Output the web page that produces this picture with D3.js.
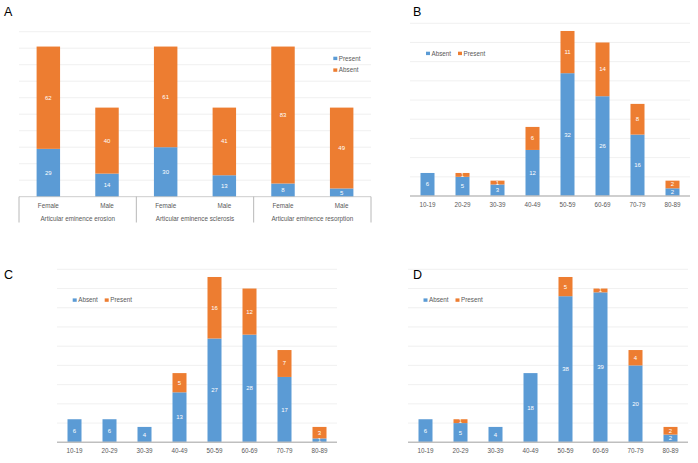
<!DOCTYPE html>
<html>
<head>
<meta charset="utf-8">
<script src="https://cdn.jsdelivr.net/npm/d3@7"></script>
<style>
  body { margin: 0; background: #fff; }
  svg { display: block; font-family: "Liberation Sans", Arial, sans-serif; }
</style>
</head>
<body>
<div id="chart"></div>
<script>
// ---- data ----
const featureGroups = ["Articular eminence erosion", "Articular eminence sclerosis", "Articular eminence resorption"];
const sexes = ["Female", "Male"];
const aPresent = [29, 14, 30, 13, 8, 5];
const aAbsent = [62, 40, 61, 41, 83, 49];

const ageGroups = ["10-19", "20-29", "30-39", "40-49", "50-59", "60-69", "70-79", "80-89"];
const bAbsent  = [6, 5, 3, 12, 32, 26, 16, 2];
const bPresent = [0, 1, 1, 6, 11, 14, 8, 2];
const cAbsent  = [6, 6, 4, 13, 27, 28, 17, 1];
const cPresent = [0, 0, 0, 5, 16, 12, 7, 3];
const dAbsent  = [6, 5, 4, 18, 38, 39, 20, 2];
const dPresent = [0, 1, 0, 0, 5, 1, 4, 2];

const blue = "#5b9bd5", orange = "#ed7d31";
const gridColor = "#ececec", axisColor = "#bfbfbf", labelColor = "#595959";
const fs = 6.3;

const svg = d3.select("#chart").append("svg")
    .attr("width", 698)
    .attr("height", 463);

// panel letters
const letters = [["A", 4, 16], ["B", 413, 16], ["C", 4, 279], ["D", 413, 279]];
svg.selectAll(".letter").data(letters).enter().append("text")
    .attr("class", "letter")
    .attr("x", d => d[1])
    .attr("y", d => d[2])
    .attr("font-size", 12.5)
    .attr("fill", "#000")
    .text(d => d[0]);

// draws a stacked bar: bottom series then top series, with white value labels
function drawStack(g, x, y, cats, bottom, top, bottomColor, topColor) {
    const rows = cats.map((c, i) => ({cat: c, b: bottom[i], t: top[i]}));
    const bars = g.selectAll(".bar").data(rows).enter().append("g");
    bars.append("rect")
        .attr("x", d => x(d.cat))
        .attr("width", x.bandwidth())
        .attr("y", d => y(d.b))
        .attr("height", d => y(0) - y(d.b))
        .attr("fill", bottomColor);
    bars.filter(d => d.t > 0).append("rect")
        .attr("x", d => x(d.cat))
        .attr("width", x.bandwidth())
        .attr("y", d => y(d.b + d.t))
        .attr("height", d => y(d.b) - y(d.b + d.t))
        .attr("fill", topColor);
    bars.filter(d => d.b > 0).append("text")
        .attr("x", d => x(d.cat) + x.bandwidth() / 2)
        .attr("y", d => (y(0) + y(d.b)) / 2 + 2)
        .attr("text-anchor", "middle")
        .attr("font-size", 6)
        .attr("fill", "#fff")
        .text(d => d.b);
    bars.filter(d => d.t > 0).append("text")
        .attr("x", d => x(d.cat) + x.bandwidth() / 2)
        .attr("y", d => (y(d.b) + y(d.b + d.t)) / 2 + 2)
        .attr("text-anchor", "middle")
        .attr("font-size", 6)
        .attr("fill", "#fff")
        .text(d => d.t);
}

function gridLines(g, y, ticks, x0, x1) {
    g.selectAll(".grid").data(ticks).enter().append("line")
        .attr("x1", x0).attr("x2", x1)
        .attr("y1", d => y(d)).attr("y2", d => y(d))
        .attr("stroke", gridColor)
        .attr("stroke-width", 0.8);
}

function legendItem(g, x, y, color, label) {
    g.append("rect").attr("x", x).attr("y", y - 1.6).attr("width", 4).attr("height", 3.4).attr("fill", color);
    g.append("text").attr("x", x + 5.5).attr("y", y + 2.2).attr("font-size", fs).attr("fill", labelColor).text(label);
}

// ---- Panel A ----
{
    const g = svg.append("g");
    const cats = [];
    featureGroups.forEach(f => sexes.forEach(s => cats.push(f + "|" + s)));
    const x = d3.scaleBand().domain(cats).range([19, 371]).paddingInner(0.6).paddingOuter(0.3);
    const y = d3.scaleLinear().domain([0, 100]).range([196.7, 31.7]);

    gridLines(g, y, d3.range(10, 101, 10), 19, 371);
    drawStack(g, x, y, cats, aPresent, aAbsent, blue, orange);

    g.append("line").attr("x1", 19).attr("x2", 371).attr("y1", y(0)).attr("y2", y(0))
        .attr("stroke", axisColor).attr("stroke-width", 0.8);

    // category labels
    g.selectAll(".sex").data(cats).enter().append("text")
        .attr("x", d => x(d) + x.bandwidth() / 2)
        .attr("y", 208)
        .attr("text-anchor", "middle")
        .attr("font-size", fs)
        .attr("fill", labelColor)
        .text(d => d.split("|")[1]);

    const groupW = (371 - 19) / featureGroups.length;
    g.selectAll(".grp").data(featureGroups).enter().append("text")
        .attr("x", (d, i) => 19 + groupW * (i + 0.5))
        .attr("y", 220.5)
        .attr("text-anchor", "middle")
        .attr("font-size", fs)
        .attr("fill", labelColor)
        .text(d => d);

    g.selectAll(".sep").data(d3.range(featureGroups.length + 1)).enter().append("line")
        .attr("x1", i => 19 + groupW * i).attr("x2", i => 19 + groupW * i)
        .attr("y1", y(0)).attr("y2", 222.5)
        .attr("stroke", "#a6a6a6").attr("stroke-width", 0.8);

    legendItem(g, 333.3, 58.3, blue, "Present");
    legendItem(g, 333.3, 70, orange, "Absent");
}

// ---- Age panels B, C, D ----
function agePanel(x0, x1, yBase, yTop, absent, present, legX, legY) {
    const g = svg.append("g");
    const x = d3.scaleBand().domain(ageGroups).range([x0, x1]).paddingInner(0.6).paddingOuter(0.3);
    const y = d3.scaleLinear().domain([0, 45]).range([yBase, yTop]);

    gridLines(g, y, d3.range(5, 46, 5), x0, x1);
    drawStack(g, x, y, ageGroups, absent, present, blue, orange);

    g.append("line").attr("x1", x0).attr("x2", x1).attr("y1", yBase).attr("y2", yBase)
        .attr("stroke", axisColor).attr("stroke-width", 1.6);

    g.selectAll(".tick").data(ageGroups).enter().append("text")
        .attr("x", d => x(d) + x.bandwidth() / 2)
        .attr("y", yBase + 10.5)
        .attr("text-anchor", "middle")
        .attr("font-size", fs)
        .attr("fill", labelColor)
        .text(d => d);

    legendItem(g, legX, legY, blue, "Absent");
    legendItem(g, legX + 32, legY, orange, "Present");
}

agePanel(410, 690, 196, 23.3, bAbsent, bPresent, 426, 53.3);
agePanel(57, 337, 442.3, 269.3, cAbsent, cPresent, 72.7, 300);
agePanel(408, 688, 442.3, 269.3, dAbsent, dPresent, 423.5, 300);
</script>
</body>
</html>
